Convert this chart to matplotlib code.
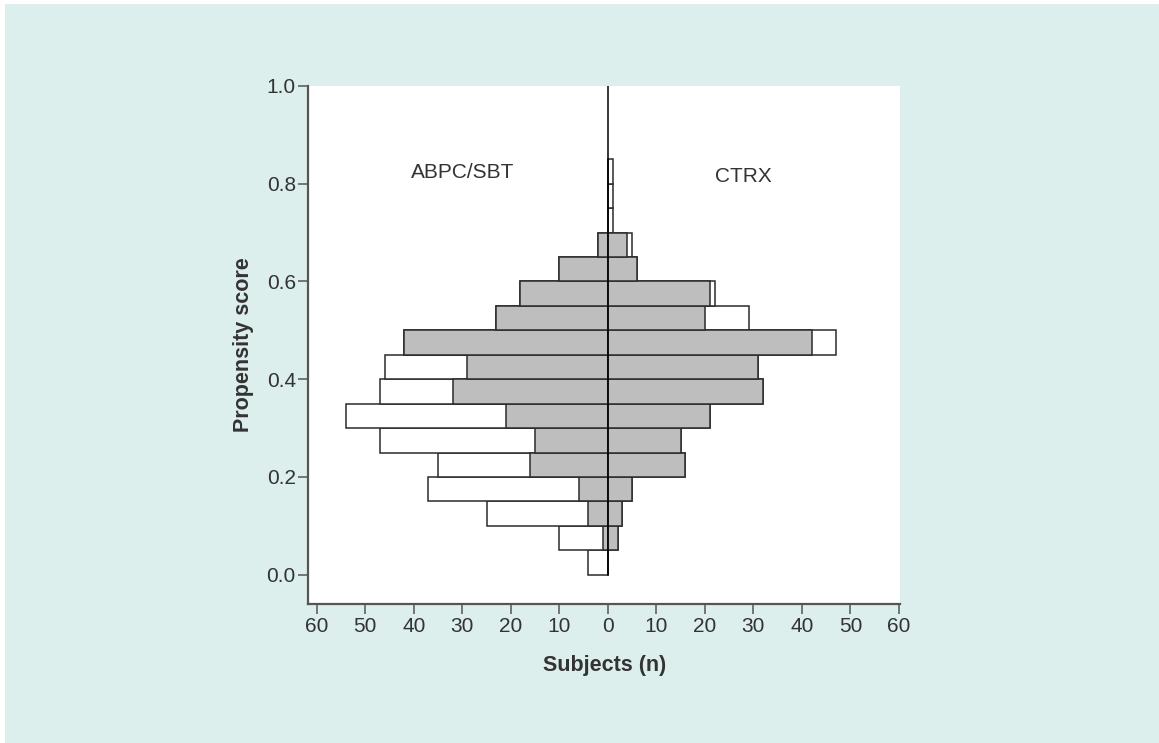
import matplotlib
matplotlib.use("Agg")
import matplotlib.pyplot as plt
from matplotlib.patches import Rectangle
import numpy as np

# Propensity-score bins (lower edges, width 0.05)
bin_edges = np.arange(0.0, 0.85, 0.05)
bin_width = 0.05

# ABPC/SBT (left side): all subjects and matched subjects per bin
abpc_all = [4, 10, 25, 37, 35, 47, 54, 47, 46, 42, 23, 18, 10, 2, 0, 0, 0]
abpc_matched = [0, 1, 4, 6, 16, 15, 21, 32, 29, 42, 23, 18, 10, 2, 0, 0, 0]

# CTRX (right side)
ctrx_all = [0, 2, 3, 5, 16, 15, 21, 32, 31, 47, 29, 22, 6, 5, 1, 1, 1]
ctrx_matched = [0, 2, 3, 5, 16, 15, 21, 32, 31, 42, 20, 21, 6, 4, 0, 0, 0]

x_ticks = [-60, -50, -40, -30, -20, -10, 0, 10, 20, 30, 40, 50, 60]
y_ticks = [0.0, 0.2, 0.4, 0.6, 0.8, 1.0]

textfarbe = "#333333"
plt.rcParams["font.family"] = ["Liberation Sans", "DejaVu Sans"]

fig = plt.figure(figsize=(11.59, 7.43), dpi=100)
fig.patches.append(Rectangle((5 / 1159, 0), 1 - 5 / 1159, 1 - 4 / 743,
                             transform=fig.transFigure, facecolor="#dcefec",
                             edgecolor="none", zorder=-10))

ax = fig.add_axes([0.266, 0.187, 0.5105, 0.6973])
ax.set_facecolor("white")

kante = dict(edgecolor="#2b2b2b", linewidth=1.1, align="edge")
ax.barh(bin_edges, -np.array(abpc_all), height=bin_width, color="white", **kante)
ax.barh(bin_edges, np.array(ctrx_all), height=bin_width, color="white", **kante)
ax.barh(bin_edges, -np.array(abpc_matched), height=bin_width, color="#bebebe", **kante)
ax.barh(bin_edges, np.array(ctrx_matched), height=bin_width, color="#bebebe", **kante)

# Mittellinie zwischen beiden Gruppen
ax.plot([0, 0], [0, 1.0], color="black", linewidth=1.1, zorder=5)

ax.text(-30, 0.823, "ABPC/SBT", ha="center", va="center", fontsize=15, color=textfarbe)
ax.text(28, 0.815, "CTRX", ha="center", va="center", fontsize=15, color=textfarbe)

ax.set_xlim(-61.73, 60.2)
ax.set_ylim(-0.06, 1.0)
ax.set_xticks(x_ticks)
ax.set_xticklabels([str(abs(v)) for v in x_ticks])
ax.set_yticks(y_ticks)
ax.set_yticklabels([f"{v:.1f}" for v in y_ticks])

for seite in ["top", "right"]:
    ax.spines[seite].set_visible(False)
for seite in ["left", "bottom"]:
    ax.spines[seite].set_color("#555555")
    ax.spines[seite].set_linewidth(1.6)

ax.tick_params(direction="out", length=7, width=1.1, color="#555555",
               labelsize=15, labelcolor=textfarbe, pad=2)

ax.set_xlabel("Subjects (n)", fontsize=15.5, fontweight="bold", color=textfarbe, labelpad=14)
ax.set_ylabel("Propensity score", fontsize=15.5, fontweight="bold", color=textfarbe, labelpad=9)

fig.savefig("out.png", dpi=100)
